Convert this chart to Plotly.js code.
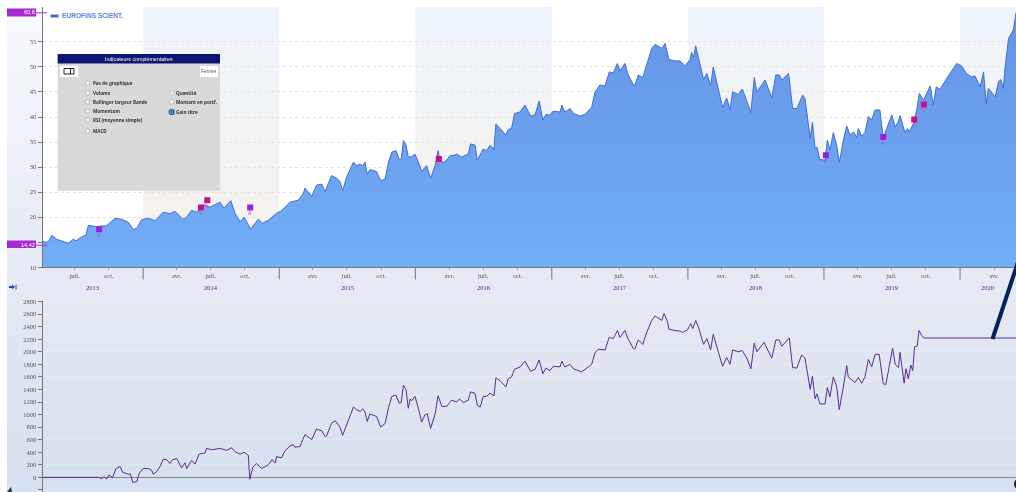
<!DOCTYPE html>
<html><head><meta charset="utf-8">
<script src="https://cdn.plot.ly/plotly-3.0.1.min.js"></script>
<style>
html,body{margin:0;padding:0;background:#fff;overflow:hidden}
#bg{position:absolute;left:7px;top:7px;width:1009px;height:485px;background:linear-gradient(180deg,#f8fafd 0%,#e8ecf6 45%,#e4e9f3 60%,#d6e0ee 100%)}
#chart{position:absolute;left:0;top:0;width:1016px;height:492px;filter:blur(0.35px)}
</style></head><body><div id="bg"></div><div id="chart"></div>
<script>
// Days counted from the left edge of the time axis (2013-04-06)
const startDate = "2013-04-06";
const endDate = "2020-05-30";
const priceDay = [0,7,16,25,38,56,69,83,90,101,117,123,145,152,172,194,212,230,244,254,266,284,302,324,342,355,376,387,400,413,431,449,467,476,487,505,516,530,541,558,579,590,606,628,641,664,686,700,704,722,735,749,758,775,789,798,805,816,834,843,852,859,865,871,878,896,907,919,928,937,948,957,962,968,975,981,990,999,1008,1017,1030,1041,1053,1061,1066,1075,1084,1093,1106,1111,1124,1142,1148,1160,1166,1175,1182,1191,1200,1211,1216,1227,1243,1249,1258,1266,1281,1294,1309,1321,1332,1342,1350,1361,1370,1388,1393,1401,1415,1424,1442,1455,1473,1482,1495,1509,1520,1531,1542,1549,1562,1571,1585,1589,1598,1610,1620,1634,1643,1661,1670,1680,1696,1710,1723,1737,1741,1746,1752,1759,1773,1782,1792,1799,1813,1824,1835,1844,1851,1866,1877,1889,1900,1909,1916,1938,1956,1967,1976,1983,2001,2012,2023,2039,2045,2059,2065,2072,2077,2085,2099,2105,2112,2121,2130,2137,2148,2157,2166,2175,2184,2188,2197,2206,2215,2224,2233,2246,2255,2264,2278,2287,2296,2300,2313,2320,2324,2336,2345,2352,2363,2381,2389,2397,2407,2425,2439,2452,2465,2479,2492,2501,2515,2524,2531,2537,2555,2564,2570,2577,2582,2591,2604,2611];
const priceValue = [15.2,15,15.1,16.4,15.6,15.1,14.8,15.6,15.3,15.9,16.5,18.4,18.1,18.2,18.3,19.8,19.6,19,17.5,17.9,19.5,19.8,19.3,21,20.7,21.2,19.6,20,21.4,21,22.5,22,22.7,23,21.8,23.3,20.8,19.1,20,17.6,19.6,18.8,19.4,20.8,21.3,23,23.4,24.8,25.8,24.2,26.4,26.6,25.1,28.3,27.8,27.1,25.3,28.1,31,30.3,30.6,30.2,31,28.6,29.5,29.1,27.3,27.6,31,33,33.3,31.5,31.6,35.3,34.4,32,32.1,32.6,31,29.1,30.3,27.75,30.3,33.3,31.4,30.9,31.4,32.3,32.4,32.6,32,32.6,34.6,34.4,31.4,32.7,33.6,33.3,34.3,33.6,38.6,37.7,36.4,37.5,37.7,40.7,41,42.4,40.2,40.4,43.2,39.4,40.5,40.4,41.2,41,42.4,41,41.7,40.7,40.2,40.5,42,45,46.4,46.2,49,48.8,50.7,49.2,50.7,48.4,46.4,46.4,48.4,47.9,50.4,53.7,54.5,53.7,54.7,51.5,51.2,51.2,50.2,51.5,52.9,51.8,54.2,52,47.5,48.7,46.2,50,45.7,41.9,43.8,41.4,45,44.5,45.6,43,40.9,47.9,45,47.4,43.8,48.4,48.4,47.4,48.7,41.7,41.7,44.4,43.7,35.7,39,33.7,34,31.5,31.4,35.4,33.4,36.9,34.4,30.9,35.4,38.2,36.4,37,35.9,37.7,36.2,36.9,40.1,39.4,41.4,41.4,35.7,37.7,40.4,38,39.2,40.3,36.9,37.7,37,38.7,41.5,44.7,43.4,46.2,42.4,46,45.5,47.7,49.4,50.7,50.2,48.6,48,48.2,46,49,42.7,45.7,44,47,47.5,45.7,50,55.7,57.4,60.8];
const gainDay = [0,150,159,165,172,178,188,197,208,215,230,236,242,253,259,270,284,293,297,306,315,324,333,342,349,360,373,382,387,400,409,420,436,440,454,476,494,507,516,530,541,552,556,564,574,588,606,615,624,628,641,650,664,673,677,691,695,704,722,735,749,758,762,775,785,791,798,805,811,816,834,843,852,859,865,871,878,896,907,919,928,937,948,957,962,968,975,981,986,990,999,1008,1017,1026,1032,1041,1053,1061,1071,1084,1097,1111,1118,1129,1142,1148,1160,1166,1174,1182,1191,1200,1211,1216,1227,1243,1249,1258,1266,1281,1294,1309,1321,1332,1342,1350,1361,1370,1388,1393,1401,1415,1424,1446,1473,1482,1491,1509,1520,1531,1542,1549,1562,1571,1585,1589,1598,1610,1620,1634,1643,1661,1667,1676,1680,1696,1710,1717,1730,1739,1744,1752,1759,1773,1782,1792,1799,1813,1824,1835,1844,1851,1866,1877,1889,1900,1909,1916,1925,1935,1956,1967,1976,1983,2003,2012,2023,2036,2045,2059,2065,2072,2077,2085,2099,2105,2112,2121,2130,2137,2148,2157,2161,2179,2188,2197,2206,2215,2224,2233,2244,2255,2262,2269,2280,2287,2296,2300,2311,2316,2322,2329,2334,2339,2346,2351,2358,2364,2611];
const gainValue = [0,0,-20,10,-25,35,-5,140,170,80,50,50,-80,-70,60,140,140,110,50,90,170,290,280,220,280,300,150,230,140,270,210,370,390,460,440,460,430,470,410,370,400,350,-30,160,220,140,200,280,230,330,310,420,500,520,480,490,560,680,600,770,740,650,660,860,900,860,800,670,760,860,1120,1075,1050,1090,1040,890,1010,970,800,860,1110,1290,1310,1180,1190,1470,1400,1100,1250,1220,1290,1100,880,1000,1010,780,1010,1300,1130,1130,1230,1200,1250,1190,1230,1360,1340,1150,1120,1290,1290,1340,1300,1585,1540,1440,1570,1600,1720,1760,1850,1690,1720,1870,1650,1740,1700,1770,1760,1850,1760,1800,1730,1680,1800,1990,2040,2030,2230,2210,2340,2230,2340,2200,2050,2050,2190,2120,2300,2500,2570,2500,2610,2490,2360,2340,2330,2310,2350,2450,2370,2500,2400,2120,2210,2030,2280,1990,1770,1910,1800,2030,2000,2020,1900,1730,2140,2000,2080,2150,1900,2190,2190,2090,2220,1750,1740,1950,1900,1400,1610,1250,1330,1170,1170,1430,1280,1600,1450,1080,1440,1780,1600,1510,1590,1500,1600,1880,1760,1960,1960,1490,1480,1700,2056,1800,1750,1990,1500,1730,1570,1790,1700,2080,2090,2340,2260,2220,2220];
const buyDay = [152,557,2101,2255];
const buyValue = [17.6,21.96,32.35,36];
const sellDay = [425,442,1063,2338,2364];
const sellValue = [21.96,23.4,31.6,39.5,42.5];
const priceTicks = [10,15,20,25,30,35,40,45,50,55];
const gainTicks = [-200,0,200,400,600,800,1000,1200,1400,1600,1800,2000,2200,2400,2600,2800];
const years = [2014,2015,2016,2017,2018,2019,2020];
const yearLabels = ["2013","2014","2015","2016","2017","2018","2019","2020"];
const quarterDates = [];
const quarterLabels = [];
const monthNames = {"04":"avr.","07":"juil.","10":"oct."};
for (let y=2013;y<=2020;y++) for (const m of ["04","07","10"]) {
  const d = y+"-"+m+"-01";
  if (d>startDate && d<endDate) {quarterDates.push(d);quarterLabels.push(monthNames[m]);}
}
const optionsLeft = [["Pas de graphique",83],["Volume",93],["Bollinger largeur Bande",102],["Momentum",111],["RSI (moyenne simple)",120],["MACD",131]];
const optionsRight = [["Quantité",93],["Montant en portf.",102],["Gain titre",112]];

const toDate = n => new Date(Date.UTC(2013,3,6)+n*864e5).toISOString().slice(0,10);
const W=1016,H=492;
const px=x=>x/W, py=y=>1-y/H;
const FONT='"Liberation Sans",Arial,sans-serif';
const shapes=[], anns=[];
const rect=(x0,y0,x1,y1,fill,line)=>shapes.push({type:'rect',xref:'paper',yref:'paper',x0:px(x0),x1:px(x1),y0:py(y0),y1:py(y1),fillcolor:fill,line:{width:line?1:0,color:line||fill},layer:'above'});
const label=(x,y,text,size,color,anchor,opts)=>anns.push(Object.assign({xref:'paper',yref:'paper',x:px(x),y:py(y),text,showarrow:false,xanchor:anchor||'left',yanchor:'middle',borderpad:0,font:{family:FONT,size,color}},opts||{}));

// white plotting area of the price panel
shapes.push({type:'rect',xref:'paper',yref:'paper',x0:px(42.5),x1:1,y0:py(267.3),y1:py(7),fillcolor:'#fff',line:{width:0},layer:'below'});
// shaded alternate years, fading from pale blue to beige
const bandTop=[239,245,252], bandBot=[246,241,236];
const bandSteps=12, bandMin=15, bandMax=61.96;
for (const y of [2014,2016,2018,2020]) for (let i=0;i<bandSteps;i++){
  const t=i/bandSteps, c=bandTop.map((v,k)=>Math.round(v+(bandBot[k]-v)*t));
  shapes.push({type:'rect',xref:'x',yref:'y',x0:y+'-01-01',x1:(y+1)+'-01-01',
    y1:bandMax-(bandMax-bandMin)*t,y0:bandMax-(bandMax-bandMin)*(t+1/bandSteps),
    fillcolor:`rgb(${c})`,line:{width:0},layer:'below'});
}
// year separators
for (const y of years) shapes.push({type:'line',xref:'x',yref:'paper',x0:y+'-01-01',x1:y+'-01-01',y0:py(267),y1:py(279.5),line:{color:'#777',width:1},layer:'above'});
// year labels
const yearCenters=["2013-08-19","2014-07-02","2015-07-02","2016-07-02","2017-07-02","2018-07-02","2019-07-02","2020-03-15"];
yearLabels.forEach((t,i)=>anns.push({xref:'x',yref:'paper',x:yearCenters[i],y:py(287),text:t,showarrow:false,yanchor:'middle',font:{family:'"Liberation Serif",serif',size:6.5,color:'#3b2f96'}}));
// trade letters just under their markers
buyDay.forEach((d,i)=>anns.push({xref:'x',yref:'y',x:toDate(d),y:buyValue[i],yshift:-6,text:'A',showarrow:false,borderpad:0,font:{family:FONT,size:5,color:'#a04ad8'}}));
sellDay.forEach((d,i)=>anns.push({xref:'x',yref:'y',x:toDate(d),y:sellValue[i],yshift:-6,text:'V',showarrow:false,borderpad:0,font:{family:FONT,size:5,color:'#d04aa4'}}));

// legend
rect(50.5,14.5,58.5,17.5,'#3f6ddc');
label(60.5,15,'EUROFINS SCIENT.',6.6,'#5a7fe0','left',{font:{family:FONT,size:6.6,color:'#5a7fe0',weight:700}});

// value flags on the left axis
rect(7,8.5,36,16.5,'#a62bd2');
label(35.5,12.5,'60,8',5.5,'#fff','right');
shapes.push({type:'line',xref:'paper',yref:'y',x0:px(36),x1:px(47),y0:60.8,y1:60.8,line:{color:'#a62bd2',width:1},layer:'above'});
rect(7,240.5,36,248,'#a62bd2');
label(35.5,244.5,'14,42',5.5,'#fff','right');
shapes.push({type:'line',xref:'paper',yref:'y',x0:px(36),x1:px(47),y0:14.42,y1:14.42,line:{color:'#a62bd2',width:1},layer:'above'});

// options panel
rect(57.7,54,220,190.7,'#d9d9d9');
rect(57.7,54,220,63.5,'#0d1670');
label(138.5,59,'Indicateurs complémentaires',5.3,'#fff','center');
rect(60,66,78,77,'#fff');
rect(64,68.5,74,74,'#fff','#222');
shapes.push({type:'line',xref:'paper',yref:'paper',x0:px(70.5),x1:px(70.5),y0:py(68.5),y1:py(74),line:{color:'#222',width:1},layer:'above'});
rect(200,66,218,77,'#fff');
label(209,71.5,'Fermer',4.8,'#555','center');
const radio=(x,y,on)=>{
  shapes.push({type:'circle',xref:'paper',yref:'paper',x0:px(x-2.3),x1:px(x+2.3),y0:py(y+2.3),y1:py(y-2.3),fillcolor:'#eee',line:{color:on?'#0b63b5':'#aaa',width:on?1.6:0.6},layer:'above'});
  if(on) shapes.push({type:'circle',xref:'paper',yref:'paper',x0:px(x-1),x1:px(x+1),y0:py(y+1),y1:py(y-1),fillcolor:'#0b3f85',line:{width:0},layer:'above'});
};
const optFont={family:'"Noto Sans",sans-serif',size:4.6,color:'#333',weight:700};
optionsLeft.forEach(([t,y])=>{radio(87.7,y,false);label(91.5,y,t,4.6,'#333','left',{font:optFont});});
optionsRight.forEach(([t,y],i)=>{radio(171.7,y,i===2);label(175.3,y,t,4.6,'#333','left',{font:optFont});});

// small page furniture
shapes.push({type:'path',xref:'paper',yref:'paper',path:`M${px(9)},${py(286)} L${px(12)},${py(286)} L${px(12)},${py(284.5)} L${px(15)},${py(287)} L${px(12)},${py(289.5)} L${px(12)},${py(288)} L${px(9)},${py(288)} Z`,fillcolor:'#2a4c9a',line:{width:0},layer:'above'});
shapes.push({type:'line',xref:'paper',yref:'paper',x0:px(16),x1:px(16),y0:py(284.5),y1:py(289.5),line:{color:'#2a4c9a',width:1},layer:'above'});
// hand-drawn thick stroke at the right edge
shapes.push({type:'line',xref:'paper',yref:'paper',x0:px(992.5),x1:px(1020),y0:py(339),y1:py(256),line:{color:'#04215f',width:4},layer:'above'});
shapes.push({type:'circle',xref:'paper',yref:'paper',x0:px(1014),x1:px(1022),y0:py(489),y1:py(479),fillcolor:'#222',line:{width:0},layer:'above'});
shapes.push({type:'path',xref:'paper',yref:'paper',path:`M${px(7)},${py(492)} L${px(11)},${py(487)} L${px(12)},${py(492)} Z`,fillcolor:'#333',line:{width:0},layer:'above'});

const traces=[
 {x:priceDay.map(toDate),y:priceValue,type:'scatter',mode:'lines',fill:'tozeroy',
  fillgradient:{type:'vertical',colorscale:[[0,'#72aef7'],[1,'#6594e6']],start:10,stop:60},
  line:{color:'#3f6ddc',width:1},hoverinfo:'skip',xaxis:'x',yaxis:'y'},
 {x:buyDay.map(toDate),y:buyValue,type:'scatter',mode:'markers',marker:{symbol:'square',size:6,color:'#9a20d8'},xaxis:'x',yaxis:'y'},
 {x:sellDay.map(toDate),y:sellValue,type:'scatter',mode:'markers',marker:{symbol:'square',size:6,color:'#c8108c'},xaxis:'x',yaxis:'y'},
 {x:gainDay.map(toDate),y:gainValue,type:'scatter',mode:'lines',line:{color:'#5a2d91',width:1},xaxis:'x2',yaxis:'y2'}
];
const tickFont={family:'"Liberation Serif",serif',size:6.5,color:'#555'};
const layout={
 width:W,height:H,margin:{l:0,r:0,t:0,b:0,pad:0},showlegend:false,
 paper_bgcolor:'rgba(0,0,0,0)',plot_bgcolor:'rgba(0,0,0,0)',
 xaxis:{type:'date',domain:[42.5/W,1],range:[startDate,endDate],anchor:'y',tickmode:'array',tickvals:quarterDates,ticktext:quarterLabels,
  ticks:'outside',ticklen:2,tickcolor:'#999',tickfont:tickFont,showgrid:false,showline:true,linecolor:'#777',linewidth:1,zeroline:false},
 yaxis:{domain:[1-267.3/H,1-7/H],range:[10,61.96],tickmode:'array',tickvals:priceTicks,ticks:'outside',ticklen:4,tickcolor:'#777',tickfont:tickFont,
  showgrid:true,gridcolor:'#e3e3e3',griddash:'dot',gridwidth:1,showline:true,linecolor:'#777',linewidth:1,zeroline:false},
 xaxis2:{type:'date',domain:[42.5/W,1],range:[startDate,endDate],anchor:'y2',showticklabels:false,ticks:'',showgrid:false,showline:false,zeroline:false},
 yaxis2:{domain:[0,1-301/H],range:[-234,2810],tickmode:'array',tickvals:gainTicks,ticks:'outside',ticklen:4,tickcolor:'#777',tickfont:tickFont,
  showgrid:true,gridcolor:'rgba(255,255,255,0.22)',gridwidth:1,showline:true,linecolor:'#777',linewidth:1,zeroline:true,zerolinecolor:'#888',zerolinewidth:1.5},
 shapes,annotations:anns
};
Plotly.newPlot('chart',traces,layout,{staticPlot:true,displayModeBar:false});
</script></body></html>
